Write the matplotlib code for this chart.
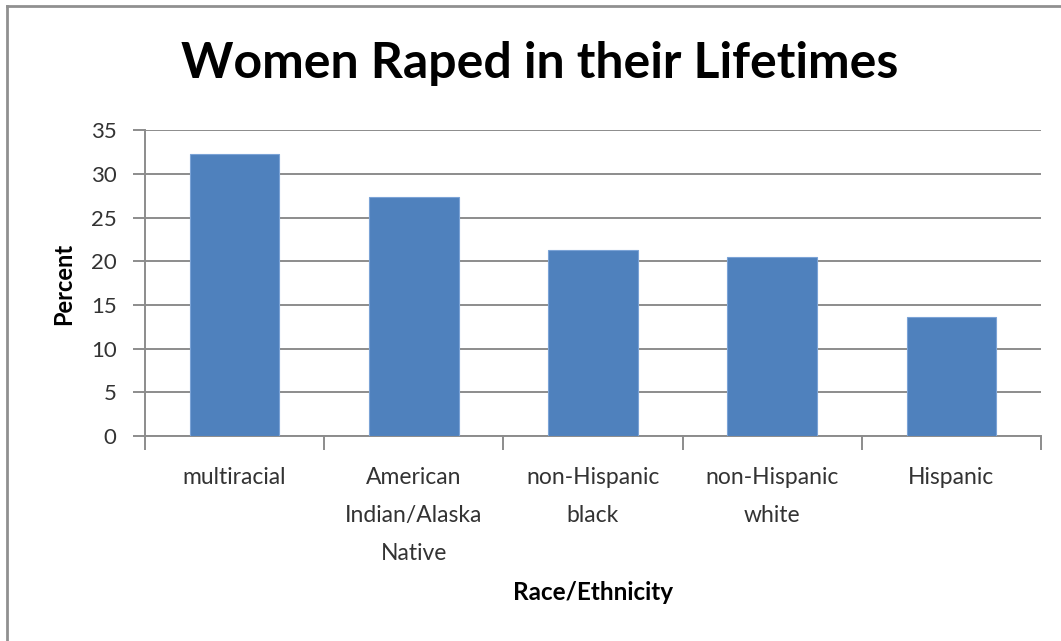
import matplotlib.pyplot as plt
from matplotlib.lines import Line2D
import numpy as np

categories = [
    "multiracial",
    "American\nIndian/Alaska\nNative",
    "non-Hispanic\nblack",
    "non-Hispanic\nwhite",
    "Hispanic",
]
percent = [32.3, 27.4, 21.3, 20.5, 13.6]
y_ticks = [0, 5, 10, 15, 20, 25, 30, 35]

W, H = 1061, 641
plt.rcParams["font.family"] = ["Lato", "DejaVu Sans"]

fig = plt.figure(figsize=(W / 100, H / 100), dpi=100)
ax = fig.add_axes([145 / W, 1 - 436 / H, (1041 - 145) / W, (436 - 130.5) / H])

x = np.arange(len(categories))
ax.bar(x, percent, width=0.5, color="#4F81BD", edgecolor="#7BA3D6", linewidth=0.8, zorder=3)

grid_color = "#8C8C8C"
ax.set_xlim(-0.5, len(categories) - 0.5)
ax.set_ylim(0, 35)
ax.set_yticks(y_ticks)
ax.yaxis.grid(True, color=grid_color, linewidth=1.4, zorder=0)
ax.set_axisbelow(True)

for side in ("top", "right"):
    ax.spines[side].set_visible(False)
for side in ("left", "bottom"):
    ax.spines[side].set_color(grid_color)
    ax.spines[side].set_linewidth(1.4)

ax.tick_params(axis="y", length=9, width=1.4, color=grid_color, labelsize=16,
               labelcolor="#333333", pad=11.5)
ax.set_xticks(x)
ax.set_xticklabels(categories, fontsize=16.5, color="#333333", linespacing=2.0)
ax.tick_params(axis="x", which="major", length=0, pad=22)
ax.set_xticks(np.arange(-0.5, len(categories)), minor=True)
ax.tick_params(axis="x", which="minor", length=10, width=1.4, color=grid_color)

fig.text(64 / W, 1 - 284 / H, "Percent", fontsize=17, fontweight="bold",
         rotation=90, ha="center", va="center")
fig.text(593 / W, 1 - 592 / H, "Race/Ethnicity", fontsize=17.5, fontweight="bold",
         ha="center", va="center")
fig.text(540 / W, 1 - 63 / H, "Women Raped in their Lifetimes", fontsize=36,
         fontweight="bold", ha="center", va="center")

# chart frame (left and top edges visible)
frame = "#909090"
fig.add_artist(Line2D([7 / W, 7 / W], [0, 1 - 5.5 / H], color=frame, linewidth=2))
fig.add_artist(Line2D([7 / W, 1], [1 - 5.5 / H, 1 - 5.5 / H], color=frame, linewidth=2))

fig.savefig("out.png", dpi=100)
